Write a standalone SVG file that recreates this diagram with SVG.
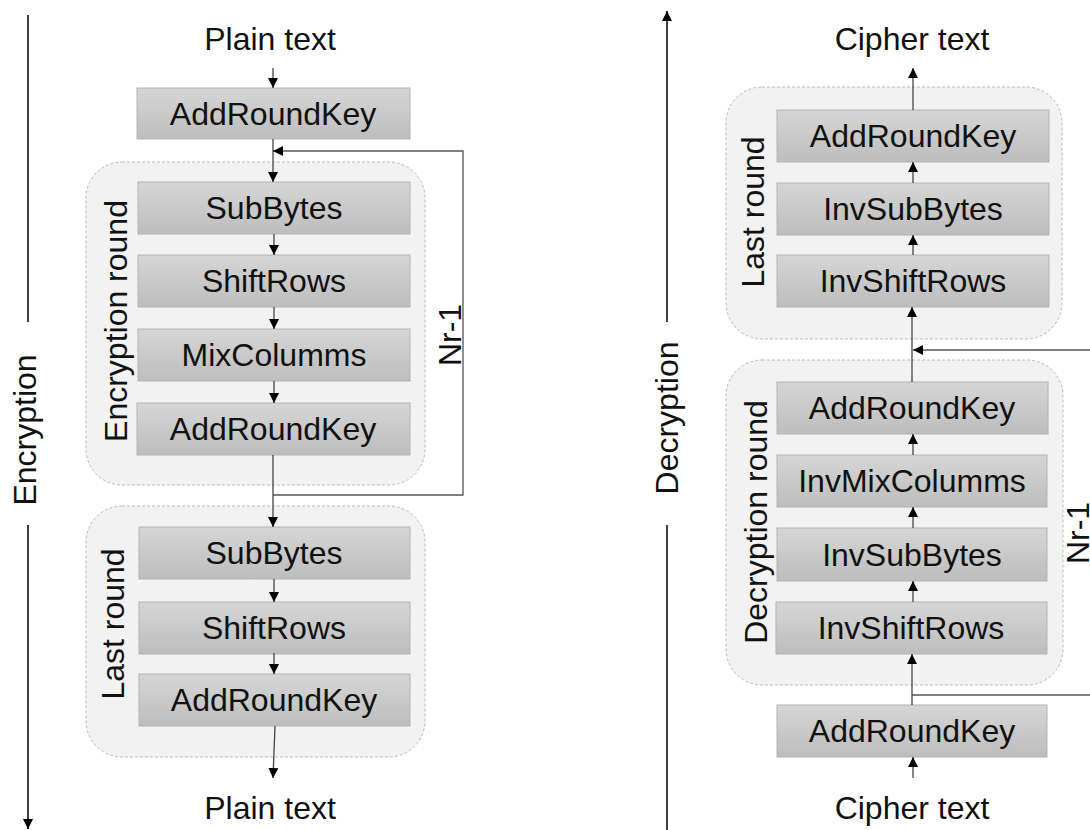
<svg xmlns="http://www.w3.org/2000/svg" width="1090" height="830" viewBox="0 0 1090 830">
  <defs>
    <linearGradient id="boxFill" x1="0" y1="0" x2="0" y2="1">
      <stop offset="0" stop-color="#d6d6d6"/>
      <stop offset="1" stop-color="#bdbdbd"/>
    </linearGradient>
    <marker id="arrow" viewBox="0 0 10 10" refX="10" refY="5" markerWidth="10" markerHeight="10" markerUnits="userSpaceOnUse" orient="auto">
      <path d="M0,0 L10,5 L0,10 z" fill="#000"/>
    </marker>
  </defs>
  <style>
    .lbl { font-family: "Liberation Sans", Arial, sans-serif; font-size: 32px; fill: #111; text-anchor: middle; }
    .box { fill: url(#boxFill); stroke: #b3b3b3; stroke-width: 1; }
    .round { fill: #f2f2f2; stroke: #bcbcbc; stroke-width: 1; stroke-dasharray: 3 2; }
    .conn { fill: none; stroke: #444; stroke-width: 1.3; marker-end: url(#arrow); }
    .loop { fill: none; stroke: #555; stroke-width: 1.3; }
    .axis { fill: none; stroke: #000; stroke-width: 1.5; }
  </style>

  <rect width="1090" height="830" fill="#fff"/>

  <!-- Encryption side -->
  <g id="enc-axis">
    <path class="axis" d="M28,15 V322"/>
    <path class="axis" d="M28,525 V829" marker-end="url(#arrow)"/>
    <text class="lbl" transform="translate(36,430) rotate(-90)">Encryption</text>
  </g>

  <g id="enc-round">
    <rect class="round" x="86" y="162" width="339" height="323" rx="36"/>
    <text class="lbl" transform="translate(127,321) rotate(-90)">Encryption round</text>
  </g>
  <g id="enc-last-round">
    <rect class="round" x="86" y="506" width="339" height="251" rx="36"/>
    <text class="lbl" transform="translate(124,624) rotate(-90)">Last round</text>
  </g>

  <g id="enc-plain-in"><text class="lbl" x="270" y="50">Plain text</text></g>
  <g id="enc-ark0"><rect class="box" x="137" y="88" width="273" height="51"/><text class="lbl" x="273" y="125">AddRoundKey</text></g>
  <g id="enc-subbytes"><rect class="box" x="138" y="182" width="272" height="52"/><text class="lbl" x="274" y="219">SubBytes</text></g>
  <g id="enc-shiftrows"><rect class="box" x="138" y="255" width="272" height="52"/><text class="lbl" x="274" y="292">ShiftRows</text></g>
  <g id="enc-mixcolumns"><rect class="box" x="138" y="329" width="272" height="52"/><text class="lbl" x="274" y="366">MixColumms</text></g>
  <g id="enc-ark1"><rect class="box" x="137" y="403" width="273" height="52"/><text class="lbl" x="273" y="440">AddRoundKey</text></g>
  <g id="enc-subbytes2"><rect class="box" x="139" y="527" width="271" height="52"/><text class="lbl" x="274" y="564">SubBytes</text></g>
  <g id="enc-shiftrows2"><rect class="box" x="139" y="602" width="271" height="52"/><text class="lbl" x="274" y="639">ShiftRows</text></g>
  <g id="enc-ark2"><rect class="box" x="139" y="674" width="271" height="52"/><text class="lbl" x="274" y="711">AddRoundKey</text></g>
  <g id="enc-plain-out"><text class="lbl" x="270" y="819">Plain text</text></g>
  <g id="enc-nr"><text class="lbl" transform="translate(461,335) rotate(-90)">Nr-1</text></g>

  <!-- Decryption side -->
  <g id="dec-axis">
    <path class="axis" d="M667,830 V525"/>
    <path class="axis" d="M667,322 V11" marker-end="url(#arrow)"/>
    <text class="lbl" transform="translate(678,418) rotate(-90)">Decryption</text>
  </g>

  <g id="dec-last-round">
    <rect class="round" x="726" y="87" width="336" height="252" rx="36"/>
    <text class="lbl" transform="translate(764,212) rotate(-90)">Last round</text>
  </g>
  <g id="dec-round">
    <rect class="round" x="726" y="360" width="337" height="325" rx="36"/>
    <text class="lbl" transform="translate(767,522) rotate(-90)">Decryption round</text>
  </g>

  <g id="dec-cipher-out"><text class="lbl" x="912" y="50">Cipher text</text></g>
  <g id="dec-ark-top"><rect class="box" x="777" y="110" width="272" height="52"/><text class="lbl" x="913" y="147">AddRoundKey</text></g>
  <g id="dec-invsubbytes-top"><rect class="box" x="777" y="183" width="272" height="52"/><text class="lbl" x="913" y="220">InvSubBytes</text></g>
  <g id="dec-invshiftrows-top"><rect class="box" x="777" y="255" width="272" height="52"/><text class="lbl" x="913" y="292">InvShiftRows</text></g>
  <g id="dec-ark-round"><rect class="box" x="777" y="382" width="271" height="52"/><text class="lbl" x="912" y="419">AddRoundKey</text></g>
  <g id="dec-invmixcolumns"><rect class="box" x="777" y="455" width="270" height="52"/><text class="lbl" x="912" y="492">InvMixColumms</text></g>
  <g id="dec-invsubbytes"><rect class="box" x="777" y="528" width="270" height="53"/><text class="lbl" x="912" y="566">InvSubBytes</text></g>
  <g id="dec-invshiftrows"><rect class="box" x="776" y="602" width="271" height="52"/><text class="lbl" x="911" y="639">InvShiftRows</text></g>
  <g id="dec-ark-bottom"><rect class="box" x="777" y="705" width="270" height="52"/><text class="lbl" x="912" y="742">AddRoundKey</text></g>
  <g id="dec-cipher-in"><text class="lbl" x="912" y="819">Cipher text</text></g>
  <g id="dec-nr"><text class="lbl" transform="translate(1089,533) rotate(-90)">Nr-1</text></g>

  <!-- Connectors -->
  <g id="connectors">
    <path class="conn" d="M273,68 V88"/>
    <path class="conn" d="M273,139 V182"/>
    <path class="loop" d="M273,495 H463 V151 H285"/>
    <path class="conn" d="M285,151 H273"/>
    <path class="conn" d="M274,234 V255"/>
    <path class="conn" d="M274,307 V329"/>
    <path class="conn" d="M274,381 V403"/>
    <path class="conn" d="M273,455 V527"/>
    <path class="conn" d="M274,579 V602"/>
    <path class="conn" d="M274,653 V674"/>
    <path class="conn" d="M275,726 L273,778"/>

    <path class="conn" d="M913,110 V68"/>
    <path class="conn" d="M913,183 V162"/>
    <path class="conn" d="M913,255 V235"/>
    <path class="conn" d="M912,382 V307"/>
    <path class="loop" d="M912,695 H1100 V350 H925"/>
    <path class="conn" d="M925,350 H913"/>
    <path class="conn" d="M913,455 V434"/>
    <path class="conn" d="M913,528 V507"/>
    <path class="conn" d="M913,602 V581"/>
    <path class="conn" d="M912,705 V654"/>
    <path class="conn" d="M913,778 V757"/>
  </g>
</svg>
